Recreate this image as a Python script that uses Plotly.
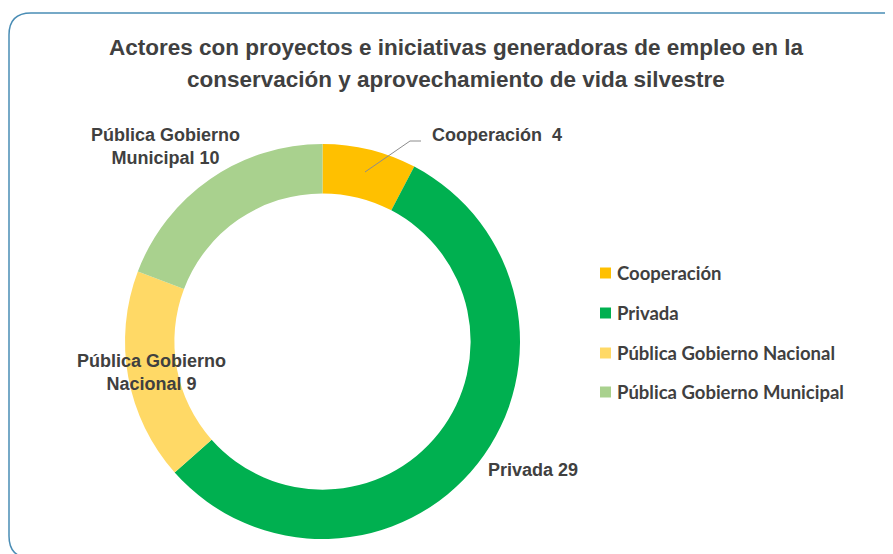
import plotly.graph_objects as go

categories = ["Cooperación", "Privada", "Pública Gobierno Nacional", "Pública Gobierno Municipal"]
values = [4, 29, 9, 10]
label_names = ["Cooperación", "Privada", "Pública Gobierno<br>Nacional", "Pública Gobierno<br>Municipal"]
colors = ["#FFC000", "#00B050", "#FFD966", "#A9D18E"]

W, H = 893, 554
OFF = 8  # page body margin


def px(x):
    return (x - OFF) / W


def py(y):
    return 1 - (y - OFF) / H


fig = go.Figure()
fig.add_trace(go.Pie(
    labels=categories,
    values=values,
    marker=dict(colors=colors, line=dict(width=0)),
    hole=0.75,
    sort=False,
    direction="clockwise",
    rotation=0,
    textinfo="none",
    hoverinfo="label+value",
    showlegend=False,
    domain=dict(x=[px(125), px(520)], y=[py(539), py(144)]),
))

label_font = dict(family="Liberation Sans, Arial", size=18, color="#404040", weight="bold")
label_pos = [(497, 135), (533, 470), (151, 372), (165, 146)]
annotations = []
for name, v, (x, y) in zip(label_names, values, label_pos):
    sep = "  " if name == "Cooperación" else " "
    annotations.append(dict(
        x=px(x), y=py(y), xref="paper", yref="paper",
        text=f"{name}{sep}{v}", showarrow=False, font=label_font, align="center",
        xanchor="center", yanchor="middle",
    ))

# legend (custom)
leg_y = [273, 313, 353, 392]
shapes = []
for name, c, y in zip(categories, colors, leg_y):
    shapes.append(dict(type="rect", xref="paper", yref="paper",
                       x0=px(600), x1=px(611), y0=py(y + 5.5), y1=py(y - 5.5),
                       fillcolor=c, line=dict(width=0)))
    annotations.append(dict(
        x=px(615), y=py(y), xref="paper", yref="paper", text=name, showarrow=False,
        xanchor="left", yanchor="middle",
        font=dict(family="Lato, Noto Sans", size=18.5, color="#404040", weight="bold"),
    ))

# leader line for Cooperación
shapes.append(dict(type="path", xref="paper", yref="paper",
                   path=f"M {px(365)} {py(172)} L {px(410)} {py(141)} L {px(421)} {py(141)}",
                   line=dict(color="#8C8C8C", width=1)))

# rounded border
x0, y0, x1, y1, r = 9, 13, 910, 558, 22
path = (f"M {px(x0)} {py(y0 + r)} Q {px(x0)} {py(y0)} {px(x0 + r)} {py(y0)} "
        f"L {px(x1)} {py(y0)} L {px(x1)} {py(y1)} L {px(x0 + r)} {py(y1)} "
        f"Q {px(x0)} {py(y1)} {px(x0)} {py(y1 - r)} Z")
shapes.append(dict(type="path", xref="paper", yref="paper", path=path,
                   line=dict(color="#4A8DB5", width=1.5), fillcolor="rgba(0,0,0,0)", layer="below"))

title_font = dict(family="Liberation Sans, Arial", size=22.5, color="#404040", weight="bold")
annotations.append(dict(x=px(456), y=py(47), xref="paper", yref="paper",
                        text="Actores con proyectos e iniciativas generadoras de empleo en la",
                        showarrow=False, font=title_font, xanchor="center", yanchor="middle"))
annotations.append(dict(x=px(456), y=py(80), xref="paper", yref="paper",
                        text="conservación y aprovechamiento de vida silvestre",
                        showarrow=False, font=title_font, xanchor="center", yanchor="middle"))

fig.update_layout(
    width=W, height=H,
    margin=dict(l=0, r=0, t=0, b=0),
    paper_bgcolor="white", plot_bgcolor="white",
    annotations=annotations, shapes=shapes,
    showlegend=False,
)

fig.write_html("out.html")
